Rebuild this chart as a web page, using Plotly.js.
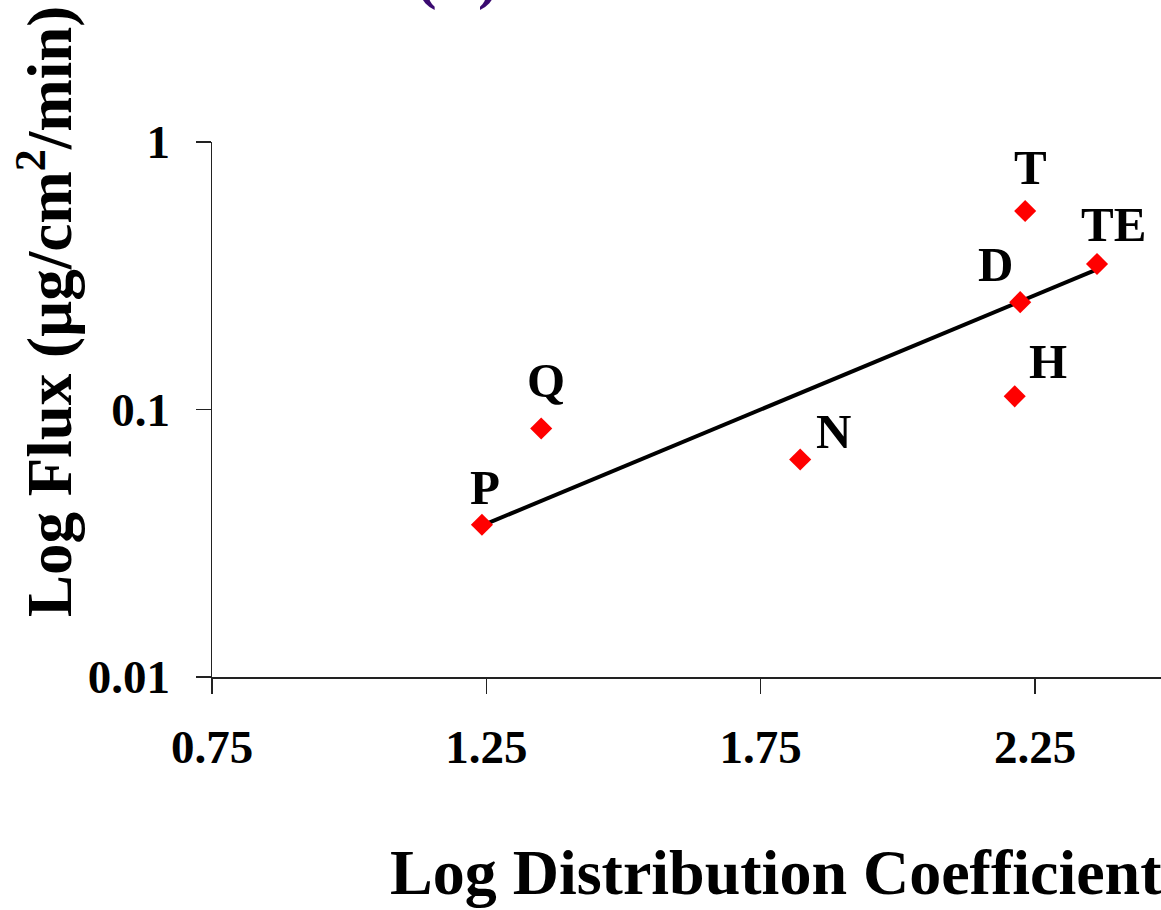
<!DOCTYPE html>
<html>
<head>
<meta charset="utf-8">
<script src="https://cdn.plot.ly/plotly-3.0.1.min.js"></script>
<style>html,body{margin:0;padding:0;background:#fff;}#chart{width:1161px;height:910px;}</style>
</head>
<body>
<div id="chart"></div>
<script>
// ---- data ----
const compoundLabels = ['P', 'Q', 'N', 'D', 'H', 'T', 'TE'];
const logDistCoeff   = [1.242, 1.350, 1.822, 2.223, 2.213, 2.232, 2.363];
const flux           = [0.0371, 0.0849, 0.065, 0.252, 0.112, 0.552, 0.350];
const trendX = [1.242, 2.363];
const trendY = [0.0368, 0.334];
const xTickVals = [0.75, 1.25, 1.75, 2.25];
const xTickText = ['0.75', '1.25', '1.75', '2.25'];
const yTickVals = [0.01, 0.1, 1];
const yTickText = ['0.01', '0.1', '1'];
const panelTitle = '(B)';
const xTitle = 'Log Distribution Coefficient';
const yTitle = 'Log Flux (µg/cm<sup>2</sup>/min)';

// label pixel offsets (styling)
const labelShift = {
  P: [3, 37], Q: [5, 48], N: [33, 28], D: [-25, 38], H: [33, 35], T: [5, 44], TE: [16, 39]
};

const FONT = '"Liberation Serif", "Times New Roman", Times, serif';

const traces = [
  {
    x: trendX, y: trendY, type: 'scatter', mode: 'lines',
    line: {color: '#000000', width: 4}, hoverinfo: 'skip', showlegend: false
  },
  {
    x: logDistCoeff, y: flux, type: 'scatter', mode: 'markers',
    marker: {symbol: 'diamond', size: 17, color: '#ff0000', line: {width: 0}},
    showlegend: false
  }
];

const annotations = compoundLabels.map((t, i) => ({
  x: logDistCoeff[i], y: Math.log10(flux[i]), xref: 'x', yref: 'y',
  text: t, showarrow: false, xanchor: 'center', yanchor: 'middle',
  xshift: labelShift[t][0], yshift: labelShift[t][1],
  font: {family: FONT, size: 49, color: '#000000', weight: 'bold'}
}));

annotations.push({
  xref: 'paper', yref: 'paper', x: -0.176, y: 0.684,
  text: yTitle, textangle: -90, showarrow: false, xanchor: 'center', yanchor: 'middle',
  font: {family: FONT, size: 63, color: '#000000', weight: 'bold'}
});
annotations.push({
  xref: 'paper', yref: 'paper', x: 0.594, y: -0.366,
  text: xTitle, showarrow: false, xanchor: 'center', yanchor: 'middle',
  font: {family: FONT, size: 64, color: '#000000', weight: 'bold'}
});
annotations.push({
  xref: 'paper', yref: 'paper', x: 0.259, y: 1.242,
  text: panelTitle, showarrow: false, xanchor: 'center', yanchor: 'bottom',
  font: {family: FONT, size: 62, color: '#3a0a70', weight: 'bold'}
});

const layout = {
  width: 1161, height: 910,
  margin: {l: 212, r: 0, t: 142, b: 233, pad: 0},
  paper_bgcolor: '#ffffff', plot_bgcolor: '#ffffff',
  showlegend: false,
  xaxis: {
    range: [0.75, 2.4796], tickvals: xTickVals, ticktext: xTickText,
    showgrid: false, zeroline: false, showline: true, linecolor: '#222222', linewidth: 1.5,
    ticks: 'outside', ticklen: 15, tickwidth: 1.5, tickcolor: '#222222',
    tickfont: {family: FONT, size: 47, color: '#000000', weight: 'bold'},
    ticklabelstandoff: 13
  },
  yaxis: {
    type: 'log', range: [-2, 0], tickvals: yTickVals, ticktext: yTickText,
    showgrid: false, zeroline: false, showline: true, linecolor: '#222222', linewidth: 1.5,
    ticks: 'outside', ticklen: 15, tickwidth: 1.5, tickcolor: '#222222',
    tickfont: {family: FONT, size: 47, color: '#000000', weight: 'bold'},
    ticklabelstandoff: 16
  },
  annotations: annotations
};

Plotly.newPlot('chart', traces, layout, {displayModeBar: false, staticPlot: true});
</script>
</body>
</html>
